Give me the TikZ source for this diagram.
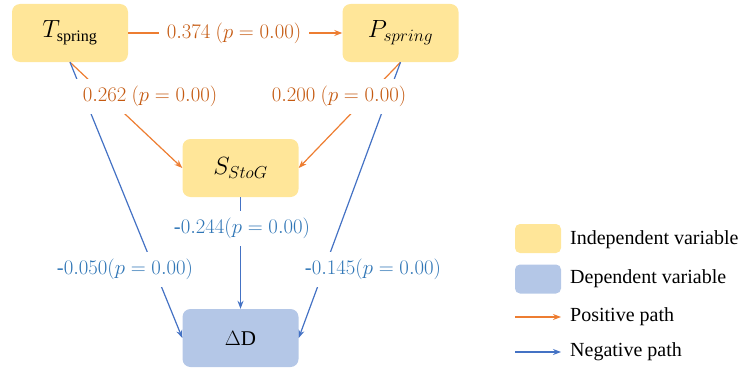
\documentclass[tikz,border=0pt]{standalone}
\usepackage{fontspec}
\setmainfont{Liberation Serif}
\usetikzlibrary{arrows.meta}
\definecolor{yfill}{HTML}{FFE699}
\definecolor{bfill}{HTML}{B4C7E7}
\definecolor{oline}{HTML}{ED7D31}
\definecolor{bline}{HTML}{4472C4}
\definecolor{otext}{HTML}{C55A11}
\definecolor{btext}{HTML}{2E75B6}
\tikzset{
  varbox/.style={rounded corners=8pt, minimum width=116pt, minimum height=58pt, inner sep=0pt, font=\fontsize{23}{27}\selectfont},
  indep/.style={varbox, fill=yfill},
  dep/.style={varbox, fill=bfill},
  posarrow/.style={draw=oline, line width=1.2pt, -{Stealth[length=8pt,width=6pt]}},
  negarrow/.style={draw=bline, line width=1.2pt, -{Stealth[length=8pt,width=6pt]}},
  lab/.style={fill=white, inner xsep=8pt, inner ysep=0pt, minimum height=35pt, font=\fontsize{20.5}{24}\selectfont},
  olab/.style={lab, text=otext},
  blab/.style={lab, text=btext},
  swatch/.style={rounded corners=5pt, minimum width=46pt, minimum height=29pt, inner sep=0pt},
  legtext/.style={anchor=west, inner sep=0pt, font=\fontsize{20}{24}\selectfont},
}
\begin{document}
\begin{tikzpicture}[x=1pt,y=-1pt]
\useasboundingbox (0,0) rectangle (746,369);
% nodes
\node[indep] (T) at (70,33) {$T_{\mathrm{spring}}$};
\node[indep] (P) at (400.5,33) {$P_{spring}$};
\node[indep] (S) at (240.5,168) {$S_{StoG}$};
\node[dep, font=\fontsize{21}{25}\selectfont] (D) at (240.5,338) {$\Delta$D};
% connectors
\draw[posarrow] (T.east) -- (P.west);
\draw[posarrow] (T.south) -- (S.west);
\draw[posarrow] (P.south) -- (S.east);
\draw[negarrow] (T.south) -- (D.west);
\draw[negarrow] (P.south) -- (D.east);
\draw[negarrow] (S.south) -- (D.north);
% labels
\node[olab] (lTP) at (234,33) {$0.374\ (p=0.00)$};
\node[olab] (lTS) at (150,96) {$0.262\ (p=0.00)$};
\node[olab] (lPS) at (339,96) {$0.200\ (p=0.00)$};
\node[blab] (lSD) at (242,228) {-$0.244(p=0.00)$};
\node[blab] (lTD) at (125,269) {-$0.050(p=0.00)$};
\node[blab] (lPD) at (373,269) {-$0.145(p=0.00)$};
% legend
\node[swatch, fill=yfill] (ly) at (538,238.5) {};
\node[swatch, fill=bfill] (lb) at (538,279) {};
\node[legtext] (tly) at (570,240) {Independent variable};
\node[legtext] (tlb) at (570,279) {Dependent variable};
\coordinate (pa1) at (515,317);
\coordinate (pa2) at (561,317);
\coordinate (na1) at (515,352);
\coordinate (na2) at (561,352);
\draw[posarrow] (pa1) -- (pa2);
\draw[negarrow] (na1) -- (na2);
\node[legtext] (tpa) at (570,317) {Positive path};
\node[legtext] (tna) at (570,352) {Negative path};
\end{tikzpicture}
\end{document}
